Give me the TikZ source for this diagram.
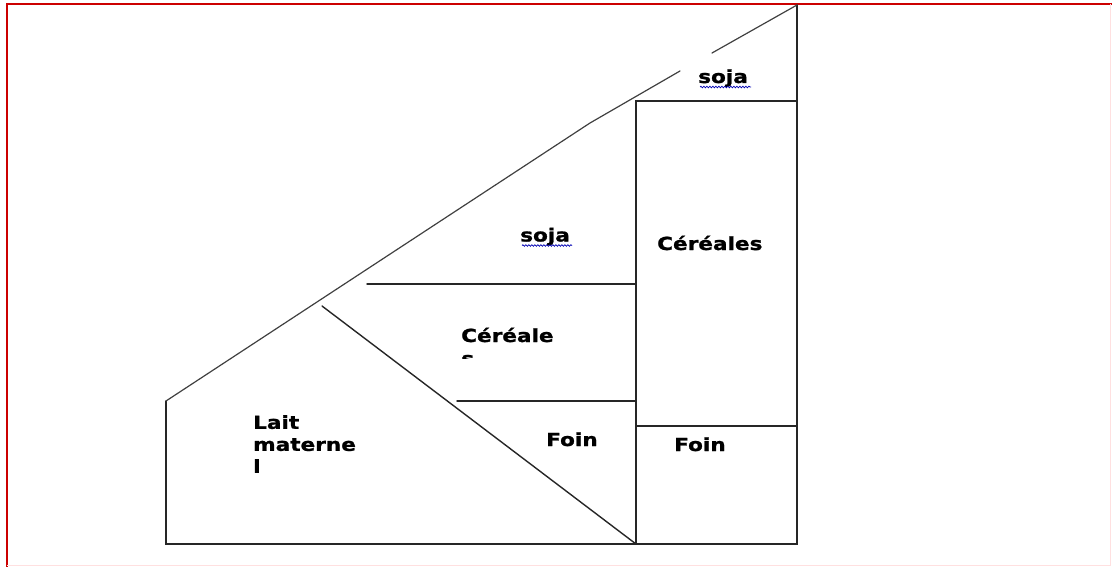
\documentclass[tikz,border=0pt]{standalone}
\usepackage{fontspec}
\newfontfamily\lblfont[FakeStretch=1.2,FakeBold=1.2]{DejaVu Sans}
\usetikzlibrary{decorations.pathmorphing}
\begin{document}
\begin{tikzpicture}[x=1pt,y=-1pt,
  edge/.style={line width=1.4pt, draw=black!85, line cap=round},
  thin edge/.style={line width=1.2pt, draw=black!75, line cap=round},
  lbl/.style={anchor=base west, inner sep=0pt, font=\lblfont\bfseries\fontsize{18}{22}\selectfont, text=black},
  squiggle/.style={draw=blue!70!black, line width=0.7pt, decorate, decoration={snake, amplitude=0.8pt, segment length=3pt}}]
\useasboundingbox (0,0) rectangle (1112,567);
% frame
\draw[red!80!black, line width=1.5pt] (7,567) -- (7,4) -- (1112,4);
\draw[red!12, line width=1pt] (1110,4) -- (1110,565) -- (7,565);
% outer contour
\draw[edge] (166,401) -- (166,544) -- (797,544) -- (797,5);
\draw[thin edge] (166,401) -- (590,123) -- (680,71);
\draw[thin edge] (712,53) -- (797,5);
% right column
\draw[edge] (636,544) -- (636,101) -- (797,101);
\draw[edge] (636,426) -- (797,426);
% inner lines
\draw[edge] (367,284) -- (636,284);
\draw[edge] (457,401) -- (636,401);
\draw[edge] (322,306) -- (636,544);
% labels
\node[lbl] (soja1) at (698,83) {soja};
\draw[squiggle] (700,87) -- (751,87);
\node[lbl] (soja2) at (520,241.5) {soja};
\draw[squiggle] (522,245.5) -- (572,245.5);
\node[lbl] (cer1) at (657,250) {Céréales};
\node[lbl] (cer2) at (461,342) {Céréale};
\begin{scope}
\clip (450,353) rectangle (490,358);
\node[lbl] (cer2s) at (461,365) {s};
\end{scope}
\node[lbl, align=left, anchor=north west] (lait) at (253,415) {Lait\\materne\\l};
\node[lbl] (foin1) at (546,446) {Foin};
\node[lbl] (foin2) at (674,451) {Foin};
\end{tikzpicture}
\end{document}
